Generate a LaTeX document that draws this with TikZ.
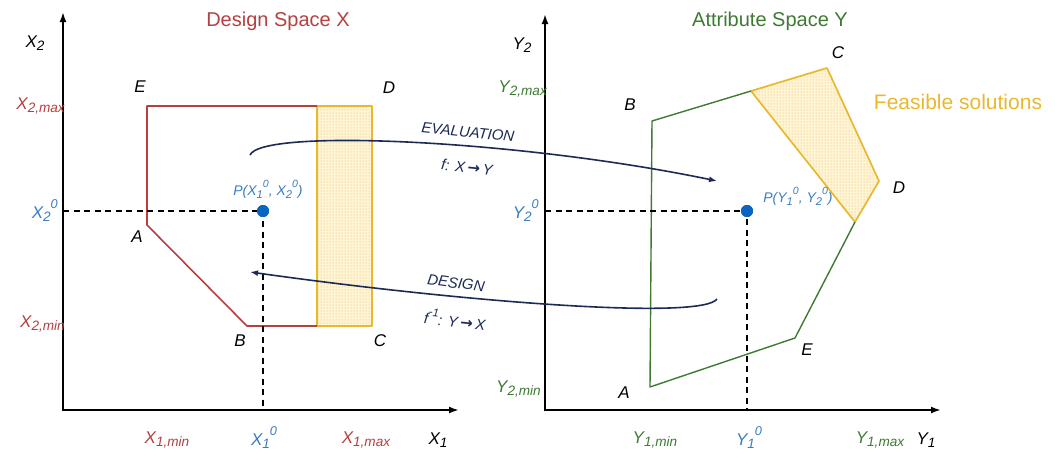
\documentclass[tikz,border=0pt]{standalone}
\usepackage{fontspec}
\setmainfont{Liberation Sans}
\newfontfamily\arrowfont{DejaVu Sans}
\usepackage{graphicx}
\usepackage{tikz}
\usetikzlibrary{positioning,arrows.meta,patterns}

\definecolor{dsred}{HTML}{B5403F}
\definecolor{asgreen}{HTML}{3F7A33}
\definecolor{feasy}{HTML}{E8B92F}
\definecolor{feasfill}{HTML}{FFF5D6}
\definecolor{feasdot}{HTML}{E2B446}
\definecolor{ptblue}{HTML}{3A7DBF}
\definecolor{dotblue}{HTML}{0A64C2}
\definecolor{flownavy}{HTML}{1C2B55}

\newcommand{\lsub}[1]{\raisebox{-.4ex}{\scalebox{.8}{#1}}}
\newcommand{\lsup}[1]{\raisebox{1.05ex}{\scalebox{.75}{#1}}}
\newcommand{\tox}{\,{\arrowfont\upshape\bfseries →}\,}

\begin{document}
\begin{tikzpicture}[x=1pt,y=-1pt,
    axisline/.style={line width=2.2pt},
    guide/.style={line width=1.5pt,dash pattern=on 6pt off 4.5pt},
    xpoly/.style={draw=dsred,line width=1.6pt,line join=round},
    ypoly/.style={draw=asgreen,line width=1.4pt,line join=round},
    feasible/.style={draw=feasy,line width=1.7pt,line join=round,preaction={fill=feasfill},pattern=dots,pattern color=feasdot},
    flow/.style={draw=flownavy,line width=1.6pt,-{Latex[length=8pt,width=6pt]}},
    ptdot/.style={circle,fill=dotblue,inner sep=0pt,minimum size=12pt},
    vlab/.style={font=\fontsize{17}{20}\selectfont\itshape,inner sep=1pt},
    plab/.style={font=\fontsize{14}{16}\selectfont\itshape,text=ptblue,inner sep=1pt},
    flab/.style={font=\fontsize{15}{17}\selectfont\itshape,text=flownavy,inner sep=1pt},
    spacetitle/.style={font=\fontsize{20}{24}\selectfont,anchor=base}
  ]
    \path[fill=white,use as bounding box] (0,0) rectangle (1055,458);

    % design space
    \coordinate (xo) at (63,410);
    \coordinate (xtop) at (63,12);
    \coordinate (xend) at (459,410);
    \draw[axisline,{Latex[length=10pt,width=7pt]}-{Latex[length=10pt,width=7pt]}] (xtop) -- (xo) -- (xend);

    \coordinate (xE) at (147,106);
    \coordinate (xA) at (147,225);
    \coordinate (xB) at (247,326);
    \coordinate (xC) at (372,326);
    \coordinate (xD) at (372,106);
    \coordinate (xF1) at (317,106);
    \coordinate (xF2) at (317,326);
    \draw[feasible] (xF1) rectangle (xC);
    \draw[xpoly] (xF1) -- (xE) -- (xA) -- (xB) -- (xF2);

    \node[spacetitle,text=dsred] (xtitle) at (278,26) {Design Space X};
    \node[vlab] (lxE) at (140,87) {E};
    \node[vlab] (lxD) at (389,88) {D};
    \node[vlab] (lxA) at (137,237) {A};
    \node[vlab] (lxB) at (240,341) {B};
    \node[vlab] (lxC) at (380,341) {C};

    \node[vlab] (lx2) at (35,43) {X\lsub{2}};
    \node[vlab,text=dsred,anchor=east] (lx2max) at (66,106) {X\lsub{2,max}};
    \node[vlab,text=ptblue,anchor=east] (lx20) at (59,211) {X\lsub{2}\lsup{0}};
    \node[vlab,text=dsred,anchor=east] (lx2min) at (66,324) {X\lsub{2,min}};
    \node[vlab,text=dsred] (lx1min) at (167,440) {X\lsub{1,min}};
    \node[vlab,text=ptblue] (lx10) at (264,438) {X\lsub{1}\lsup{0}};
    \node[vlab,text=dsred] (lx1max) at (366,440) {X\lsub{1,max}};
    \node[vlab] (lx1) at (438,440) {X\lsub{1}};

    \coordinate (xg2) at (63,211);
    \coordinate (xg1) at (263,410);
    \node[ptdot] (xP) at (263,211) {};
    \draw[guide] (xg2) -- (xP.center) -- (xg1);
    \node[ptdot] at (xP) {};
    \node[plab] (lxP) at (268,189) {P(X\lsub{1}\lsup{0}, X\lsub{2}\lsup{0})};

    % attribute space
    \coordinate (yo) at (545,410);
    \coordinate (ytop) at (545,14);
    \coordinate (yend) at (941,410);
    \draw[axisline,{Latex[length=10pt,width=7pt]}-{Latex[length=10pt,width=7pt]}] (ytop) -- (yo) -- (yend);

    \coordinate (yA) at (650,387);
    \coordinate (yB) at (652,121);
    \coordinate (yF1) at (751,91);
    \coordinate (yC) at (827,68);
    \coordinate (yD) at (879,181);
    \coordinate (yF2) at (855,222);
    \coordinate (yE) at (795,338);
    \draw[feasible] (yF1) -- (yC) -- (yD) -- (yF2) -- cycle;
    \draw[ypoly] (yF1) -- (yB) -- (yA) -- (yE) -- (yF2);

    \node[spacetitle,text=asgreen] (ytitle) at (770,26) {Attribute Space Y};
    \node[spacetitle,text=feasy,font=\fontsize{21}{24}\selectfont] (feas) at (958,109) {Feasible solutions};
    \node[vlab] (lyB) at (630,105) {B};
    \node[vlab] (lyC) at (838,53) {C};
    \node[vlab] (lyD) at (899,188) {D};
    \node[vlab] (lyE) at (807,350) {E};
    \node[vlab] (lyA) at (624,393) {A};

    \node[vlab] (ly2) at (522,45) {Y\lsub{2}};
    \node[vlab,text=asgreen,anchor=east] (ly2max) at (548,89) {Y\lsub{2,max}};
    \node[vlab,text=ptblue,anchor=east] (ly20) at (540,211) {Y\lsub{2}\lsup{0}};
    \node[vlab,text=asgreen,anchor=east] (ly2min) at (542,389) {Y\lsub{2,min}};
    \node[vlab,text=asgreen] (ly1min) at (655,440) {Y\lsub{1,min}};
    \node[vlab,text=ptblue] (ly10) at (749,438) {Y\lsub{1}\lsup{0}};
    \node[vlab,text=asgreen] (ly1max) at (880,440) {Y\lsub{1,max}};
    \node[vlab] (ly1) at (926,440) {Y\lsub{1}};

    \coordinate (yg2) at (545,211);
    \coordinate (yg1) at (747,410);
    \node[ptdot] (yP) at (747,211) {};
    \draw[guide] (yg2) -- (yP.center) -- (yg1);
    \node[ptdot] at (yP) {};
    \node[plab] (lyP) at (798,196) {P(Y\lsub{1}\lsup{0}, Y\lsub{2}\lsup{0})};

    % mappings
    \coordinate (evs) at (250,155);
    \coordinate (eve) at (717,181);
    \coordinate (dss) at (717,299);
    \coordinate (dse) at (250,272);
    \draw[flow] (evs) .. controls (262,128) and (520,140) .. (eve);
    \draw[flow] (dss) .. controls (702,320) and (470,303) .. (dse);
    \node[flab,rotate=-6] (evlab) at (468,132) {EVALUATION};
    \node[flab,rotate=-6] (evmap) at (467,167) {f: X\tox Y};
    \node[flab,rotate=-8] (dslab) at (456,283) {DESIGN};
    \node[flab,rotate=-6] (dsmap) at (455,319) {f\lsup{-1}: Y\tox X};
\end{tikzpicture}
\end{document}
